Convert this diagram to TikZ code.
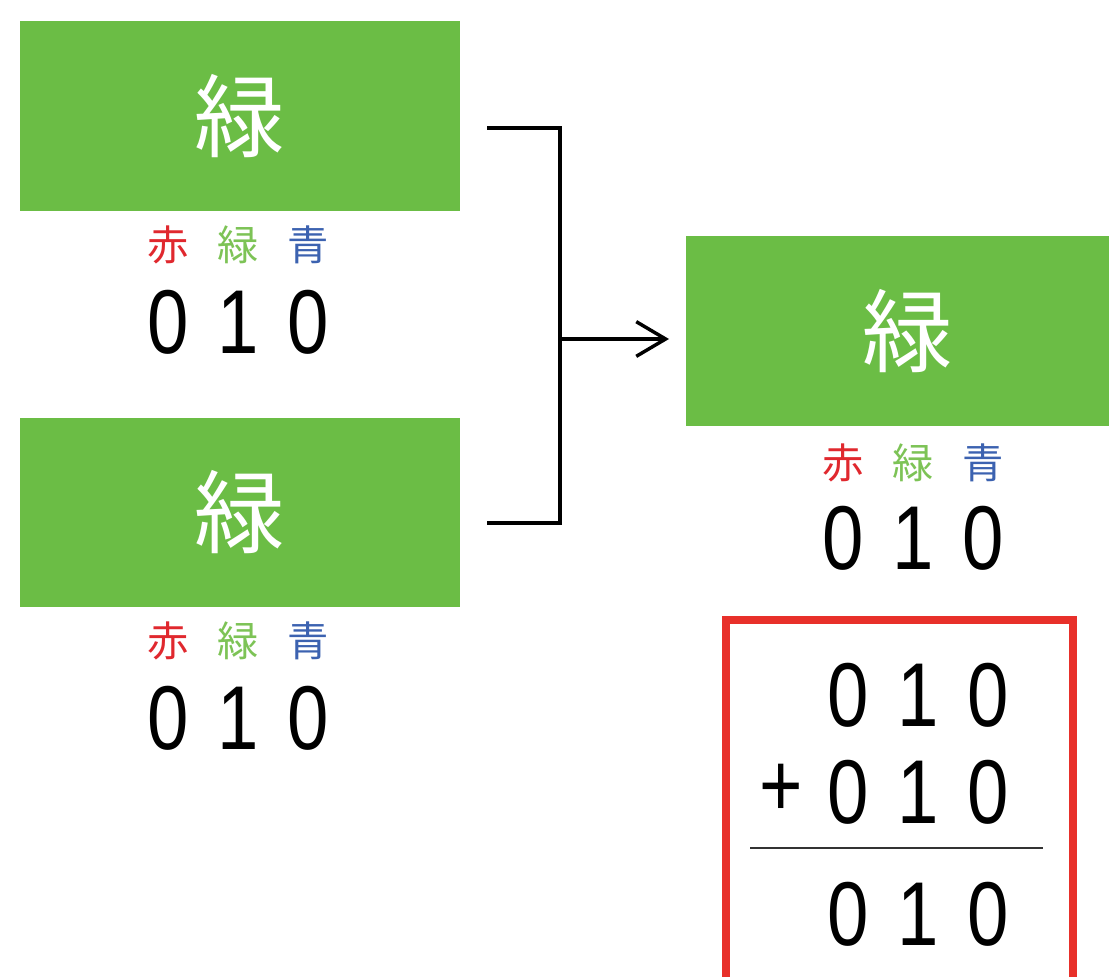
\documentclass[tikz,border=0pt]{standalone}
\usepackage{fontspec}
\usetikzlibrary{arrows.meta}
\newfontfamily\cjk{Noto Sans CJK JP}
\newfontfamily\digitfont[FakeStretch=0.82]{Liberation Sans}
\definecolor{boxgreen}{HTML}{6BBD45}
\definecolor{lblred}{HTML}{E0282E}
\definecolor{lblgreen}{HTML}{7DC356}
\definecolor{lblblue}{HTML}{3C62B0}
\definecolor{framered}{HTML}{E8302A}
\newcommand{\trio}[3]{\makebox[52.5pt]{#1}\makebox[52.5pt]{#2}\makebox[52.5pt]{#3}}
\newcommand{\rgb}{\trio{\color{lblred}赤}{\color{lblgreen}緑}{\color{lblblue}青}}
\tikzset{
  colbox/.style={fill=boxgreen, draw=none, inner sep=0pt, text=white, font=\cjk\fontsize{68pt}{68pt}\selectfont},
  lbl/.style={inner sep=0pt, font=\cjk\fontsize{31pt}{31pt}\selectfont},
  num/.style={inner sep=0pt, font=\digitfont\fontsize{68pt}{68pt}\selectfont},
  conn/.style={line width=2.6pt},
}
\begin{document}
\begin{tikzpicture}[x=0.75pt,y=-0.75pt]
\useasboundingbox (0,0) rectangle (1109,977);
% boxes
\node[colbox, minimum width=330pt, minimum height=142.5pt] (b1) at (240,116) {緑};
\node[colbox, minimum width=330pt, minimum height=142pt] (b2) at (240,512.5) {緑};
\node[colbox, minimum width=333pt, minimum height=142.5pt] (b3) at (908,331) {緑};
% labels
\node[lbl] (l1) at (238,245) {\rgb};
\node[num] (n1) at (238,322) {\trio{0}{1}{0}};
\node[lbl] (l2) at (238,641) {\rgb};
\node[num] (n2) at (238,718) {\trio{0}{1}{0}};
\node[lbl] (l3) at (913,463) {\rgb};
\node[num] (n3) at (913,538) {\trio{0}{1}{0}};
% connector
\coordinate (c1) at (487,128);
\coordinate (c2) at (487,523);
\coordinate (j1) at (560,128);
\coordinate (j2) at (560,523);
\coordinate (jm) at (560,339);
\coordinate (tip) at (669,339);
\draw[conn, line join=miter] (c1) -- (j1) -- (j2) -- (c2);
\draw[conn, -{Straight Barb[length=22pt,width=26pt,line width=2.6pt]}] (jm) -- (tip);
% sum frame
\draw[framered, line width=6pt, line join=miter] (726,1000) -- (726,620) -- (1073,620) -- (1073,1000);
\node[num] (s1) at (918,695) {\trio{0}{1}{0}};
\node[num] (plus) at (781,790) {+};
\node[num] (s2) at (918,792) {\trio{0}{1}{0}};
\coordinate (r1) at (750,848);
\coordinate (r2) at (1043,848);
\draw[line width=1.6pt, black!80] (r1) -- (r2);
\node[num] (s3) at (918,914) {\trio{0}{1}{0}};
\end{tikzpicture}
\end{document}
